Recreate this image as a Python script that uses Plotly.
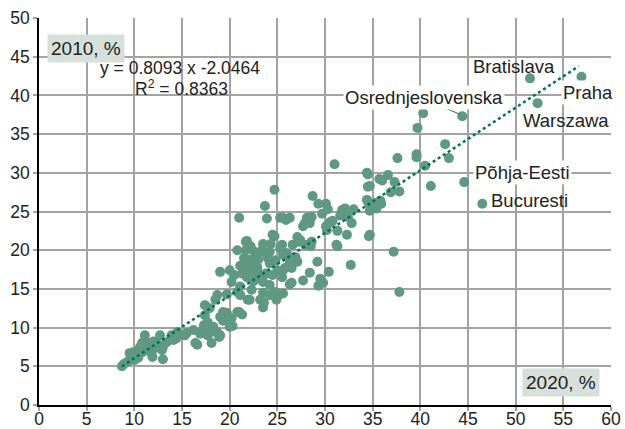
import plotly.graph_objects as go

# ---- data (2020 share, 2010 share, %) ----
x2020 = [
    8.7, 8.9, 9.3, 9.5, 9.9, 9.8, 10.1, 10.4, 10.3, 10.6, 10.8, 10.8, 11.1, 11.3, 11.6, 11.8,
    11.9, 12.0, 12.2, 12.5, 12.7, 12.9, 13.0, 13.0, 13.4, 13.9, 14.1, 14.4, 14.5, 10.0, 11.5,
    15.3, 15.5, 16.2, 16.4, 16.6, 16.9, 17.2, 17.3, 17.4, 17.4, 17.7, 17.7, 17.9, 17.9, 18.1,
    18.3, 18.5, 18.7, 18.7, 18.9, 19.0, 19.0, 19.0, 19.3, 19.3, 19.5, 19.7, 19.7, 20.0, 20.2,
    20.3, 20.2, 20.8, 20.8, 20.8, 21.0,
    21.1, 21.1, 21.1, 21.3, 21.3, 21.0, 21.7, 21.7, 21.8, 21.8, 21.9, 22.1, 22.1, 22.3, 22.4,
    22.6, 22.7, 22.7, 22.9, 22.9, 23.0, 23.2, 23.4, 23.5, 23.5, 23.5, 23.5, 23.5, 23.5, 23.6,
    23.7, 23.9, 24.2, 24.2, 24.2, 24.2, 24.5, 24.7, 24.7, 24.8, 24.8, 24.9, 25.0, 25.0, 25.3,
    25.3,
    25.5, 25.5, 25.6, 25.6, 25.6, 25.6, 25.6, 25.8, 25.9, 26.3, 26.3, 26.3, 26.5, 26.5, 26.6,
    26.9, 27.1, 27.1, 27.2, 27.4, 27.7, 27.7, 27.9, 27.9, 28.1, 28.4, 28.4, 28.5, 28.6, 28.6,
    28.7, 29.2, 29.3, 29.3, 29.5, 29.7, 29.8,
    30.1, 30.1, 30.2, 30.3, 30.4, 30.5, 30.8, 31.0, 31.2, 31.3, 31.3, 31.6, 31.8, 31.9, 32.1,
    32.3, 32.4, 32.7, 32.8, 33.0, 34.4, 34.5, 34.4, 34.7, 34.6, 34.7, 34.7, 34.6, 34.5,
    35.0, 35.2, 35.4, 35.7, 35.8, 36.0, 35.9, 36.6, 36.9, 37.2, 37.3, 37.6, 37.8, 37.8, 39.6,
    39.6, 39.7, 40.3, 40.5, 41.1, 42.6, 43.0,
    20.5, 21.5, 22.0, 22.5, 23.0, 23.8, 24.0, 24.5, 21.5, 22.2, 20.0, 24.3, 26.0, 21.9,
]
y2010 = [
    5.0, 5.3, 5.6, 6.7, 6.8, 6.1, 6.2, 6.1, 7.0, 7.5, 6.8, 8.0, 9.0, 7.4, 8.0, 6.8,
    6.2, 8.2, 7.4, 7.8, 9.0, 7.1, 5.9, 7.5, 8.1, 9.0, 8.4, 8.6, 9.4, 5.8, 7.0,
    9.0, 9.3, 9.7, 8.0, 7.8, 9.2, 9.7, 10.3, 11.6, 12.9, 10.7, 9.0, 12.5, 9.3, 8.0,
    10.1, 13.6, 9.4, 14.2, 8.8, 9.0, 11.4, 17.2, 10.9, 12.0, 11.6, 11.9, 14.3, 10.1, 11.2,
    10.2, 15.9, 12.0, 14.6, 20.0, 12.0,
    15.3, 18.0, 14.2, 11.7, 17.0, 24.2, 20.0, 21.1, 16.5, 21.2, 13.6, 16.4, 13.6, 14.9, 17.2,
    19.8, 19.4, 18.5, 17.4, 17.8, 16.5, 13.6, 20.0, 20.8, 19.8, 16.6, 15.9, 14.5, 12.6, 13.2,
    25.7, 24.1, 19.8, 18.3, 15.5, 14.2, 22.0, 21.8, 27.8, 18.7, 14.6, 13.6, 17.4, 14.0, 20.3,
    24.2,
    20.7, 16.5, 19.8, 19.4, 17.4, 14.4, 24.2, 17.7, 23.9, 24.2, 18.5, 15.6, 17.7, 15.8, 20.7,
    19.1, 21.7, 18.5, 21.1, 21.3, 23.1, 16.1, 20.7, 23.5, 24.2, 23.5, 17.1, 20.5, 24.3, 21.1,
    27.0, 18.5, 26.0, 15.4, 16.3, 24.7, 15.8,
    26.0, 23.1, 22.6, 25.3, 17.2, 23.6, 23.8, 31.1, 20.7, 22.5, 20.5, 24.5, 25.2, 24.8, 25.4,
    22.0, 24.3, 18.1, 23.5, 25.3, 30.0, 28.2, 26.5, 28.3, 26.1, 25.1, 22.0, 21.8, 29.8,
    25.8, 26.1, 25.4, 29.2, 26.4, 29.0, 26.0, 29.7, 27.5, 19.8, 28.8, 31.9, 27.6, 14.6, 32.4,
    32.0, 35.8, 37.7, 30.9, 28.3, 33.7, 31.9,
    16.8, 17.5, 18.2, 16.0, 18.8, 17.0, 19.0, 16.8, 19.0, 20.5, 17.4, 20.8, 19.6, 18.8,
]

named_regions = ["Osrednjeslovenska", "Põhja-Eesti", "Bucuresti", "Bratislava", "Warszawa", "Praha"]
named_x2020 = [44.4, 44.6, 46.5, 51.5, 52.3, 56.9]
named_y2010 = [37.3, 28.8, 26.0, 42.2, 39.0, 42.4]

slope, intercept = 0.8093, -2.0464
r2 = 0.8363
trend_x = [8.7, 56.6]

x_ticks = list(range(0, 61, 5))
y_ticks = list(range(0, 51, 5))

FONT = "Liberation Sans, Arial, Helvetica, sans-serif"
DOT = "#5f9883"
TREND = "#00715a"
GRID = "#a3a3a3"

fig = go.Figure()
fig.add_trace(go.Scatter(
    x=x2020 + named_x2020, y=y2010 + named_y2010, mode="markers",
    marker=dict(size=10, color=DOT, line=dict(width=0)), hoverinfo="skip", cliponaxis=False))
fig.add_trace(go.Scatter(
    x=trend_x, y=[slope * v + intercept for v in trend_x], mode="lines",
    line=dict(color=TREND, width=2.5, dash="dot"), hoverinfo="skip"))

ann = []
ann.append(dict(x=0.85, y=47.9, xref="x", yref="y", xanchor="left", yanchor="top",
                text="2010, %", showarrow=False, bgcolor="#d7dfdb", borderpad=3,
                font=dict(size=19, color="#222")))
ann.append(dict(x=58.85, y=1.0, xref="x", yref="y", xanchor="right", yanchor="bottom",
                text="2020, %", showarrow=False, bgcolor="#d7dfdb", borderpad=3,
                font=dict(size=19, color="#222")))
ann.append(dict(x=14.8, y=43.5, xref="x", yref="y", xanchor="center", yanchor="middle",
                text=f"y = {slope} x {intercept}", showarrow=False,
                font=dict(size=17.5, color="#222")))
ann.append(dict(x=14.9, y=41.0, xref="x", yref="y", xanchor="center", yanchor="middle",
                text=f"R<sup>2</sup> = {r2}", showarrow=False,
                font=dict(size=17.5, color="#222")))

label_pos = {
    "Osrednjeslovenska": (40.4, 39.7, True),
    "Põhja-Eesti": (50.7, 30.1, True),
    "Bucuresti": (51.5, 26.4, False),
    "Bratislava": (49.8, 43.7, False),
    "Warszawa": (55.3, 36.7, False),
    "Praha": (57.6, 40.4, True),
}
for name in named_regions:
    lx, ly, bg = label_pos[name]
    ann.append(dict(x=lx, y=ly, xref="x", yref="y", xanchor="center", yanchor="middle",
                    text=name, showarrow=False, bgcolor="white" if bg else None,
                    borderpad=1, font=dict(size=18.5, color="#222")))

ox, oy = named_x2020[0], named_y2010[0]
fig.add_shape(type="line", xref="x", yref="y", x0=ox - 1.9, y0=oy + 1.1, x1=ox - 0.3, y1=oy + 0.3,
              line=dict(color="#555", width=1))

fig.update_layout(
    width=625, height=429, margin=dict(l=39, r=14, t=18, b=24, autoexpand=False),
    paper_bgcolor="white", plot_bgcolor="white", showlegend=False,
    font=dict(family=FONT, size=18, color="#222"),
    annotations=ann,
)
fig.update_xaxes(range=[0, 60], tickvals=x_ticks, showgrid=True, gridcolor=GRID, gridwidth=1.5,
                 showline=True, linecolor="black", linewidth=1.5, zeroline=False,
                 ticks="outside", ticklen=4, tickcolor=GRID, tickwidth=1.5,
                 tickfont=dict(size=17.5), automargin=False, ticklabelstandoff=-7)
fig.update_yaxes(range=[0, 50], tickvals=y_ticks, showgrid=True, gridcolor=GRID, gridwidth=1.5,
                 showline=True, linecolor="black", linewidth=1.5, zeroline=False,
                 ticks="outside", ticklen=4, tickcolor=GRID, tickwidth=1.5,
                 tickfont=dict(size=17.5), automargin=False)

fig.write_html("out.html", config={"displayModeBar": False})

# remove the default body margin so the figure sits at the page's top-left corner
with open("out.html", encoding="utf-8") as f:
    html = f.read()
html = html.replace("<head>", "<head><style>html,body{margin:0;padding:0;overflow:hidden;}</style>", 1)
with open("out.html", "w", encoding="utf-8") as f:
    f.write(html)
